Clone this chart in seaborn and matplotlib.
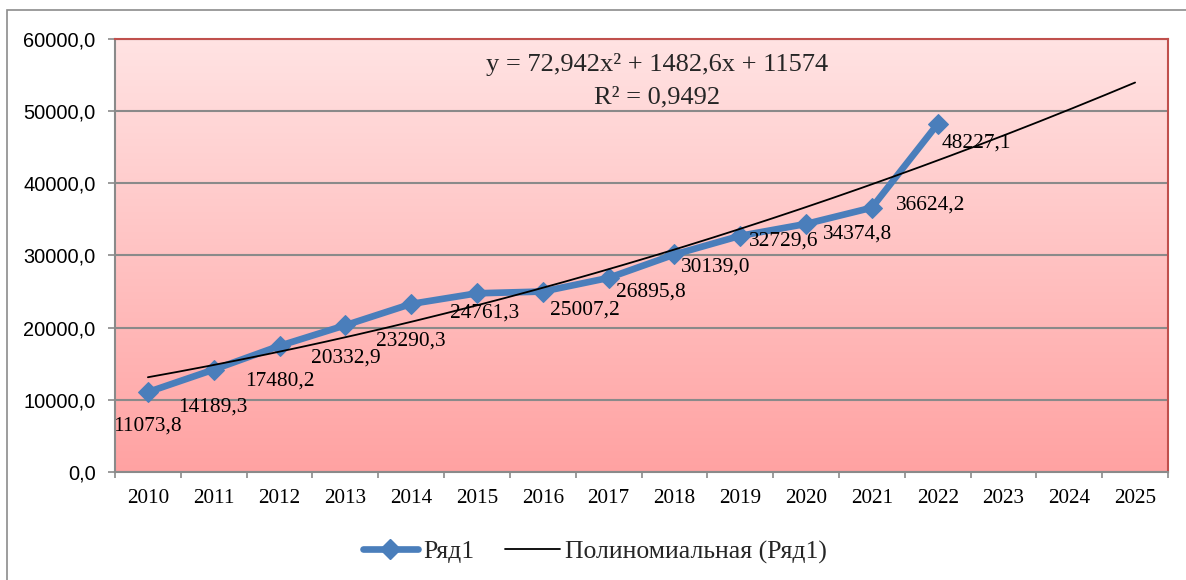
import numpy as np
import pandas as pd
import matplotlib
matplotlib.use('Agg')
import matplotlib.pyplot as plt
import seaborn as sns
from matplotlib.colors import LinearSegmentedColormap
from matplotlib.patches import Rectangle
from matplotlib.lines import Line2D
from matplotlib.ticker import FixedLocator, FuncFormatter

# ---------------- data ----------------
years = [str(y) for y in range(2010, 2026)]
values = [11073.8, 14189.3, 17480.2, 20332.9, 23290.3, 24761.3, 25007.2,
          26895.8, 30139.0, 32729.6, 34374.8, 36624.2, 48227.1]
trend_coef = [72.942, 1482.6, 11574]   # a, b, c of y = a x^2 + b x + c (x = 1..16)
r_squared = 0.9492
y_ticks = [0, 10000, 20000, 30000, 40000, 50000, 60000]
series_name = 'Ряд1'
trend_name = 'Полиномиальная (Ряд1)'

# data-label offsets in pixels (dx, dy up) -- styling only
label_offsets = [(0, -34), (-1, -37), (0, -35), (0, -33), (0, -37), (8, -20),
                 (42, -19), (42, -14), (41, -13), (43, -5), (52, -10), (59, 3), (39, -19)]

W, H = 1186, 580
BLUE = '#4A7EBB'
GRID = '#8A8A8A'
RED = '#C0504D'

sns.set_theme(style='white')
plt.rcParams['font.family'] = ['Liberation Serif', 'DejaVu Sans']


def fmt(v):
    return ('%g' % v).replace('.', ',')


fig = plt.figure(figsize=(W / 100, H / 100), dpi=100)
ax = fig.add_axes([115 / W, 1 - 472 / H, (1168 - 115) / W, (472 - 39) / H])

# gradient background of the plot area
cmap = LinearSegmentedColormap.from_list('pinkgrad', ['#FFA2A2', '#FFE3E3'])
grad = np.linspace(0, 1, 256)[:, None]
ax.imshow(grad, extent=[-0.5, len(years) - 0.5, y_ticks[0], y_ticks[-1]],
          origin='lower', aspect='auto', cmap=cmap, zorder=0)

# series
df = pd.DataFrame({'pos': np.arange(len(values)), 'value': values})
sns.lineplot(data=df, x='pos', y='value', ax=ax, color=BLUE, linewidth=4.8,
             marker='D', markersize=10, markeredgecolor=BLUE, zorder=3)

# polynomial trend line from the displayed equation
xs = np.linspace(1, len(years), 300)
tdf = pd.DataFrame({'pos': xs - 1, 'value': np.polyval(trend_coef, xs)})
sns.lineplot(data=tdf, x='pos', y='value', ax=ax, color='black', linewidth=1.3, zorder=4)

# data labels
for i, v in enumerate(values):
    dx, dy = label_offsets[i]
    ax.annotate(('%.1f' % v).replace('.', ','), xy=(i, v), xytext=(dx, dy),
                textcoords='offset pixels', ha='center', va='center',
                fontsize=15.4, color='black', zorder=5)

# axes limits & ticks
ax.set_xlim(-0.5, len(years) - 0.5)
ax.set_ylim(y_ticks[0], y_ticks[-1])
ax.set_xlabel('')
ax.set_ylabel('')
ax.xaxis.set_major_locator(FixedLocator(np.arange(-0.5, len(years), 1.0)))
ax.xaxis.set_major_formatter(FuncFormatter(lambda v, p: ''))
ax.xaxis.set_minor_locator(FixedLocator(np.arange(len(years))))
ax.xaxis.set_minor_formatter(FuncFormatter(lambda v, p: years[int(round(v))]))
ax.tick_params(axis='x', which='major', length=4.5, width=1.2, color=GRID, bottom=True)
ax.tick_params(axis='x', which='minor', length=0, pad=12, labelsize=15.2, labelcolor='black', bottom=True)

ax.set_yticks(y_ticks)
ax.set_yticklabels([('%.1f' % t).replace('.', ',') for t in y_ticks],
                   fontfamily='Liberation Sans', fontsize=14.4)
ax.tick_params(axis='y', length=5, width=1.2, color=GRID, pad=9, left=True, labelcolor='black')

ax.set_axisbelow(True)
ax.yaxis.grid(True, color=GRID, linewidth=1.5)
ax.xaxis.grid(False)

for s in ['left', 'bottom']:
    ax.spines[s].set_color(GRID)
    ax.spines[s].set_linewidth(1.5)
for s in ['top', 'right']:
    ax.spines[s].set_color(RED)
    ax.spines[s].set_linewidth(1.5)
for s in ax.spines.values():
    s.set_zorder(6)

# trend equation
a, b, c = trend_coef
fig.text(657 / W, 1 - 64 / H, f'y = {fmt(a)}x² + {fmt(b)}x + {fmt(c)}',
         ha='center', va='center', fontsize=19)
fig.text(657 / W, 1 - 97 / H, f'R² = {fmt(r_squared)}', ha='center', va='center', fontsize=19)

# legend
handles = [Line2D([], [], color=BLUE, lw=4.8, marker='D', ms=10),
           Line2D([], [], color='black', lw=1.3)]
fig.legend(handles, [series_name, trend_name], loc='center',
           bbox_to_anchor=(595 / W, 1 - 552 / H), ncol=2, frameon=False,
           fontsize=18.5, handlelength=2.15, handletextpad=0.2, columnspacing=1.2)

# outer chart frame
fig.patches.append(Rectangle((7 / W, -0.1), 1.2, (1 - 10 / H) + 0.1,
                             transform=fig.transFigure, fill=False,
                             edgecolor='#8C8C8C', linewidth=1.2, zorder=0))

fig.savefig('out.png', dpi=100)
